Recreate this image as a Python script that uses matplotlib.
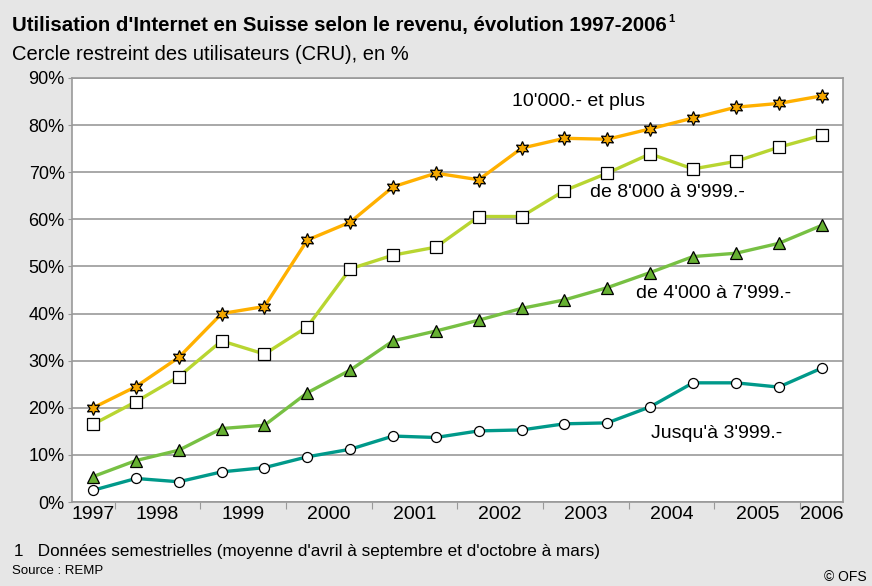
import matplotlib.pyplot as plt
import numpy as np

# semestrial data, 18 points from 1997 to 2006
semesters = np.arange(18)
year_labels = ['1997', '1998', '1999', '2000', '2001', '2002', '2003', '2004', '2005', '2006']
year_pos = [0, 1.5, 3.5, 5.5, 7.5, 9.5, 11.5, 13.5, 15.5, 17]
tick_pos = [0.5, 2.5, 4.5, 6.5, 8.5, 10.5, 12.5, 14.5, 16.5]

rev_10000 = [20.0, 24.5, 30.7, 40.0, 41.5, 55.6, 59.4, 66.9, 69.8, 68.4,
             75.1, 77.2, 77.0, 79.2, 81.5, 83.8, 84.6, 86.2]
rev_8000 = [16.5, 21.3, 26.6, 34.2, 31.4, 37.2, 49.5, 52.4, 54.1, 60.6,
            60.6, 66.1, 69.8, 73.9, 70.7, 72.3, 75.3, 77.8]
rev_4000 = [5.4, 8.8, 11.0, 15.6, 16.3, 23.2, 28.0, 34.2, 36.3, 38.6,
            41.1, 42.9, 45.5, 48.7, 52.1, 52.8, 54.9, 58.7]
rev_3999 = [2.5, 5.0, 4.3, 6.4, 7.3, 9.6, 11.2, 14.0, 13.7, 15.1,
            15.3, 16.6, 16.8, 20.2, 25.3, 25.3, 24.4, 28.4]

plt.rcParams['font.family'] = ['Liberation Sans', 'DejaVu Sans']

fig = plt.figure(figsize=(8.72, 5.86), dpi=100, facecolor='#e6e6e6')
ax = fig.add_axes([0.0822, 0.1433, 0.8845, 0.7236])
ax.set_facecolor('white')

ax.plot(semesters, rev_3999, color='#00998a', lw=2.4, marker='o', ms=7.2,
        mfc='white', mec='black', mew=0.9, zorder=3)
ax.plot(semesters, rev_4000, color='#77c043', lw=2.4, marker='^', ms=8.5,
        mfc='#66b032', mec='black', mew=0.9, zorder=3)
ax.plot(semesters, rev_8000, color='#b8d531', lw=2.4, marker='s', ms=8.5,
        mfc='white', mec='black', mew=0.9, zorder=3)
ax.plot(semesters, rev_10000, color='#ffb000', lw=2.4, marker=(6, 1, 0), ms=10,
        mfc='#f5a800', mec='black', mew=0.9, zorder=3)

ax.text(11.33, 85.0, "10'000.- et plus", fontsize=14, ha='center', va='center')
ax.text(13.4, 65.6, "de 8'000 à 9'999.-", fontsize=14, ha='center', va='center')
ax.text(14.47, 44.2, "de 4'000 à 7'999.-", fontsize=14, ha='center', va='center')
ax.text(14.55, 14.6, "Jusqu'à 3'999.-", fontsize=14, ha='center', va='center')

ax.set_xlim(-0.5, 17.5)
ax.set_ylim(0, 90)
ax.set_yticks(np.arange(0, 91, 10))
ax.set_yticklabels(['%d%%' % v for v in range(0, 91, 10)], fontsize=13)
ax.yaxis.grid(True, color='#999999', lw=1.2)
ax.set_axisbelow(True)
ax.tick_params(axis='y', length=3, color='#999999', pad=2)

ax.set_xticks(tick_pos)
ax.set_xticklabels([])
ax.tick_params(axis='x', length=5, color='#999999')
ax.set_xticks(year_pos, minor=True)
ax.set_xticklabels(year_labels, minor=True, fontsize=14)
ax.tick_params(axis='x', which='minor', length=0, pad=3)

for s in ax.spines.values():
    s.set_color('#999999')
    s.set_linewidth(1.2)

title = fig.text(0.014, 1 - 31 / 586, "Utilisation d'Internet en Suisse selon le revenu, évolution 1997-2006",
                 fontsize=14.7, fontweight='bold', va='baseline')
fig.canvas.draw()
bb = title.get_window_extent(fig.canvas.get_renderer())
fig.text(bb.x1 / 872 + 0.002, 1 - 19 / 586, '1', fontsize=8, fontweight='bold', va='center')

fig.text(0.014, 1 - 60 / 586, 'Cercle restreint des utilisateurs (CRU), en %', fontsize=14.5, va='baseline')
fig.text(0.016, 1 - 556 / 586, "1   Données semestrielles (moyenne d'avril à septembre et d'octobre à mars)",
         fontsize=12.3, va='baseline')
fig.text(0.014, 1 - 574 / 586, 'Source : REMP', fontsize=9.5, va='baseline')
fig.text(0.994, 1 - 581 / 586, '© OFS', fontsize=10, va='baseline', ha='right')

fig.savefig('out.png', dpi=100, facecolor=fig.get_facecolor())
